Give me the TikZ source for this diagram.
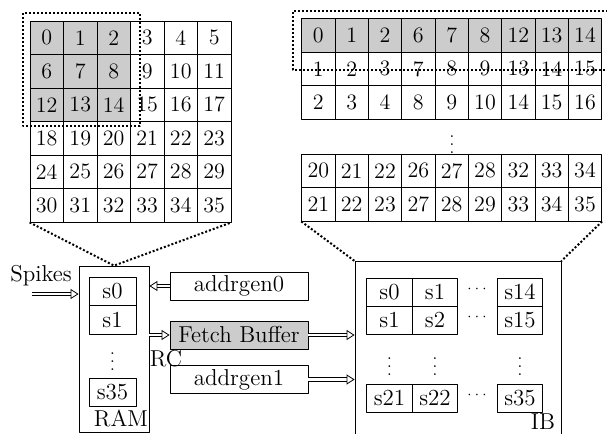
\documentclass[tikz,border=0pt]{standalone}
\usetikzlibrary{arrows.meta}
\def\pxu{0.5pt}
\tikzset{
  cell/.style={draw,minimum width=33.5*\pxu,minimum height=33.5*\pxu,inner sep=0pt,font=\fontsize{11}{13}\selectfont},
  rcell/.style={cell,minimum width=33.33*\pxu},
  scell/.style={draw,minimum width=47*\pxu,minimum height=28.5*\pxu,inner sep=0pt},
  icell/.style={draw,minimum width=45.5*\pxu,minimum height=28*\pxu,inner sep=0pt},
  unit/.style={draw,minimum width=138*\pxu,minimum height=28*\pxu,inner sep=0pt},
  vd/.style={font=\footnotesize,inner sep=0pt},
  hd/.style={font=\scriptsize,inner sep=0pt},
  dots/.style={line width=1pt,dash pattern=on 1pt off 1pt},
  dbl/.style={double,double distance=1.4pt,-{Triangle[open,length=4pt,width=5pt]}}
}
\begin{document}
\begin{tikzpicture}[x=0.5pt,y=-0.5pt,line join=round,font=\fontsize{11.5}{14}\selectfont]
	\useasboundingbox (0,0) rectangle (607,434);
	% feature map
	\foreach \i in {0,...,35}{
		\pgfmathtruncatemacro\col{mod(\i,6)}
		\pgfmathtruncatemacro\row{\i/6}
		\def\f{white}
		\ifnum\col<3 \ifnum\row<3 \def\f{gray!40}\fi\fi
		\node[cell,fill=\f] (L\i) at ({30+33.5*(\col+0.5)},{21+33.5*(\row+0.5)}) {\i};
	}
	\draw[dots] (23,13) rectangle (140,126);
	% unrolled rows
	\foreach \r/\y/\vals in {1/35.3/{0,1,2,6,7,8,12,13,14},2/68.8/{1,2,3,7,8,9,13,14,15},3/102.3/{2,3,4,8,9,10,14,15,16},4/170.8/{20,21,22,26,27,28,32,33,34},5/204.3/{21,22,23,27,28,29,33,34,35}}{
		\def\f{white}
		\ifnum\r=1 \def\f{gray!40}\fi
		\foreach \v [count=\c] in \vals
			\node[rcell,fill=\f] (R\r-\c) at ({301.7+33.33*(\c-0.5)},\y) {\v};
	}
	\node[vd] (rdots) at (452,139) {$\vdots$};
	\draw[dots] (612,11) -- (293,11) -- (293,70) -- (612,70);
	% RAM
	\node[draw,minimum width=70*\pxu,minimum height=166*\pxu] (ram) at (114,349) {};
	\node[scell] (s0) at (112.5,291.5) {s0};
	\node[scell] (s1) at (112.5,320) {s1};
	\node[vd] (sdots) at (112.5,356) {$\vdots$};
	\node[scell] (s35) at (112.5,392.5) {s35};
	\node (ramlbl) at (121,419) {RAM};
	\node (spikes) at (41,276) {Spikes};
	\coordinate (spk) at (32,294);
	\draw[dbl] (spk) -- (spk -| ram.west);
	% RC
	\node[unit] (a0) at (239,286) {addrgen0};
	\node[unit,fill=gray!40] (fb) at (239,335) {Fetch Buffer};
	\node[unit] (a1) at (239,379.5) {addrgen1};
	\node (rc) at (166,359) {RC};
	% IB
	\node[draw,minimum width=206*\pxu,minimum height=190*\pxu,anchor=north] (ib) at (458,261) {};
	\node (iblbl) at (543,422) {IB};
	\node[icell] (b00) at (389.5,292) {s0};
	\node[icell] (b01) at (435,292) {s1};
	\node[hd] (c0) at (477,289) {$\cdots$};
	\node[icell] (b02) at (520,292) {s14};
	\node[icell] (b10) at (389.5,320) {s1};
	\node[icell] (b11) at (435,320) {s2};
	\node[hd] (c1) at (477,317) {$\cdots$};
	\node[icell] (b12) at (520,320) {s15};
	\node[vd] (v0) at (389.5,361) {$\vdots$};
	\node[vd] (v1) at (435,361) {$\vdots$};
	\node[vd] (v2) at (520,361) {$\vdots$};
	\node[icell] (b20) at (389.5,398) {s21};
	\node[icell] (b21) at (435,398) {s22};
	\node[hd] (c2) at (477,395) {$\cdots$};
	\node[icell] (b22) at (520,398) {s35};
	% connections
	\draw[dbl] (a0.west) -- (a0.west -| ram.east);
	\draw[dbl] (fb.west -| ram.east) -- (fb.west);
	\draw[dbl] (fb.east) -- (fb.east -| ib.west);
	\draw[dbl] (a1.east) -- (a1.east -| ib.west);
	\draw[dots] (L30.south west) -- (ram.north) -- (L35.south east);
	\draw[dots] (R5-1.south west) -- (ib.north west);
	\draw[dots] (R5-9.south east) -- (ib.north east);
\end{tikzpicture}
\end{document}
